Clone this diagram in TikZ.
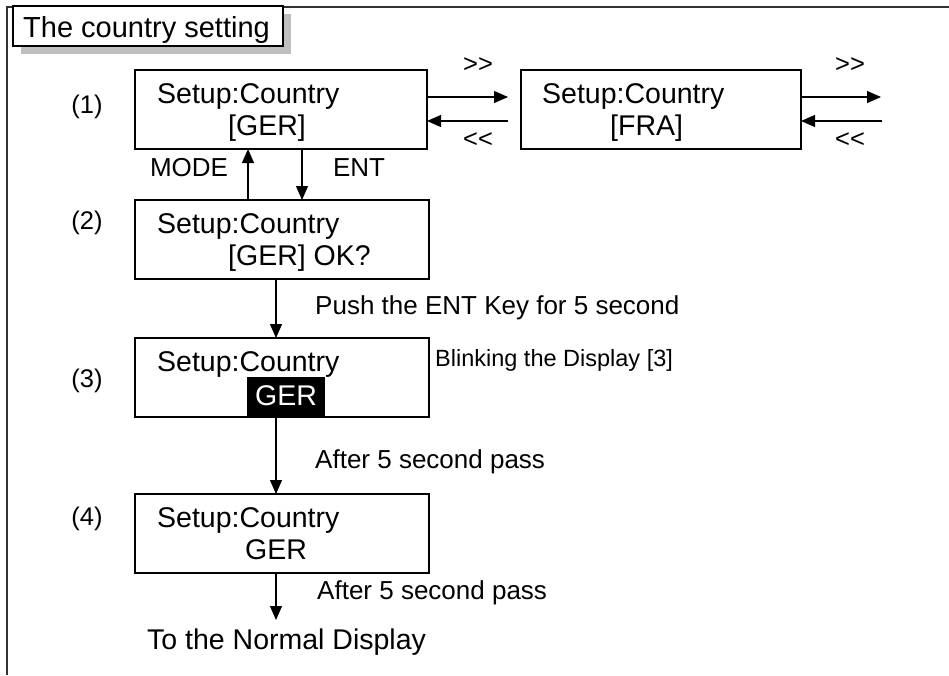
\documentclass[tikz,border=0pt]{standalone}
\usepackage{fontspec}
\setmainfont{Liberation Sans}
\usetikzlibrary{arrows.meta}
\begin{document}
\begin{tikzpicture}[x=1pt,y=-1pt,
  dbox/.style={draw=black, line width=1.4pt, fill=white, anchor=north west, inner sep=0pt, outer sep=0pt},
  bt/.style={anchor=base west, inner sep=0pt, font=\fontsize{28.5}{30}\selectfont},
  lt/.style={inner sep=0pt, font=\fontsize{26}{28}\selectfont},
  st/.style={inner sep=0pt, font=\fontsize{25.5}{27}\selectfont},
  arr/.style={line width=1.2pt, -{Triangle[length=14pt,width=12pt]}},
  frame/.style={line width=1.5pt, draw=black!80}]
\useasboundingbox (0,0) rectangle (949,675);
% outer frame
\draw[frame] (7,675) -- (7,7) -- (949,7);
% title
\fill[black!25] (21,14) rectangle (291,54);
\node[dbox, line width=1.2pt, minimum width=270pt, minimum height=40pt] (title) at (13,6) {};
\node[anchor=base west, inner sep=0pt, font=\fontsize{29}{31}\selectfont] (titlet) at (23,37) {The country setting};
% boxes
\node[dbox, minimum width=292pt, minimum height=79pt] (b1) at (135,70) {};
\node[dbox, minimum width=280pt, minimum height=79pt] (bf) at (521,70) {};
\node[dbox, minimum width=294pt, minimum height=79pt] (b2) at (135,200) {};
\node[dbox, minimum width=294pt, minimum height=79pt] (b3) at (135,338) {};
\node[dbox, minimum width=294pt, minimum height=79pt] (b4) at (135,494) {};
% box texts
\node[bt] (b1a) at (157,103) {Setup:Country};
\node[bt] (b1b) at (228,135) {[GER]};
\node[bt] (bfa) at (542,103) {Setup:Country};
\node[bt] (bfb) at (610,135) {[FRA]};
\node[bt] (b2a) at (157,233) {Setup:Country};
\node[bt] (b2b) at (228,265) {[GER] OK?};
\node[bt] (b3a) at (157,371) {Setup:Country};
\fill[black] (247,377) rectangle (325,417);
\node[bt, anchor=base, text=white] (b3b) at (286,405) {GER};
\node[bt] (b4a) at (157,527) {Setup:Country};
\node[bt] (b4b) at (245,559) {GER};
% step labels
\node[st] (l1) at (87,107) {(1)};
\node[st] (l2) at (87,223) {(2)};
\node[st] (l3) at (87,381) {(3)};
\node[st] (l4) at (87,519) {(4)};
% horizontal arrows
\coordinate (r1) at (508,97);
\coordinate (r2) at (508,121);
\coordinate (r3) at (881,97);
\coordinate (r4) at (882,121);
\draw[arr] (b1.east |- r1) -- (r1);
\draw[arr] (r2) -- (b1.east |- r2);
\draw[arr] (bf.east |- r3) -- (r3);
\draw[arr] (r4) -- (bf.east |- r4);
\node[st] (g1) at (478,65) {{>}{>}};
\node[st] (s1) at (478,140) {{<}{<}};
\node[st] (g2) at (850,65) {{>}{>}};
\node[st] (s2) at (850,140) {{<}{<}};
% vertical arrows
\coordinate (xm) at (248,0);
\coordinate (xe) at (302,0);
\coordinate (xc) at (276,0);
\draw[arr] (b2.north -| xm) -- (b1.south -| xm);
\draw[arr] (b1.south -| xe) -- (b2.north -| xe);
\node[lt] (mode) at (189,168) {MODE};
\node[lt] (ent) at (359,168) {ENT};
\draw[arr] (b2.south -| xc) -- (b3.north -| xc);
\node[lt, anchor=west] (push) at (315,308) {Push the ENT Key for 5 second};
\node[inner sep=0pt, font=\fontsize{23.5}{25}\selectfont, anchor=west] (blink) at (435,360) {Blinking the Display [3]};
\draw[arr] (b3.south -| xc) -- (b4.north -| xc);
\node[lt, anchor=west] (after1) at (315,462) {After 5 second pass};
\coordinate (endp) at (276,620);
\draw[arr] (b4.south -| xc) -- (endp);
\node[lt, anchor=west] (after2) at (317,593) {After 5 second pass};
\node[inner sep=0pt, font=\fontsize{28.5}{30}\selectfont, anchor=west] (normal) at (147,642) {To the Normal Display};
\end{tikzpicture}
\end{document}
